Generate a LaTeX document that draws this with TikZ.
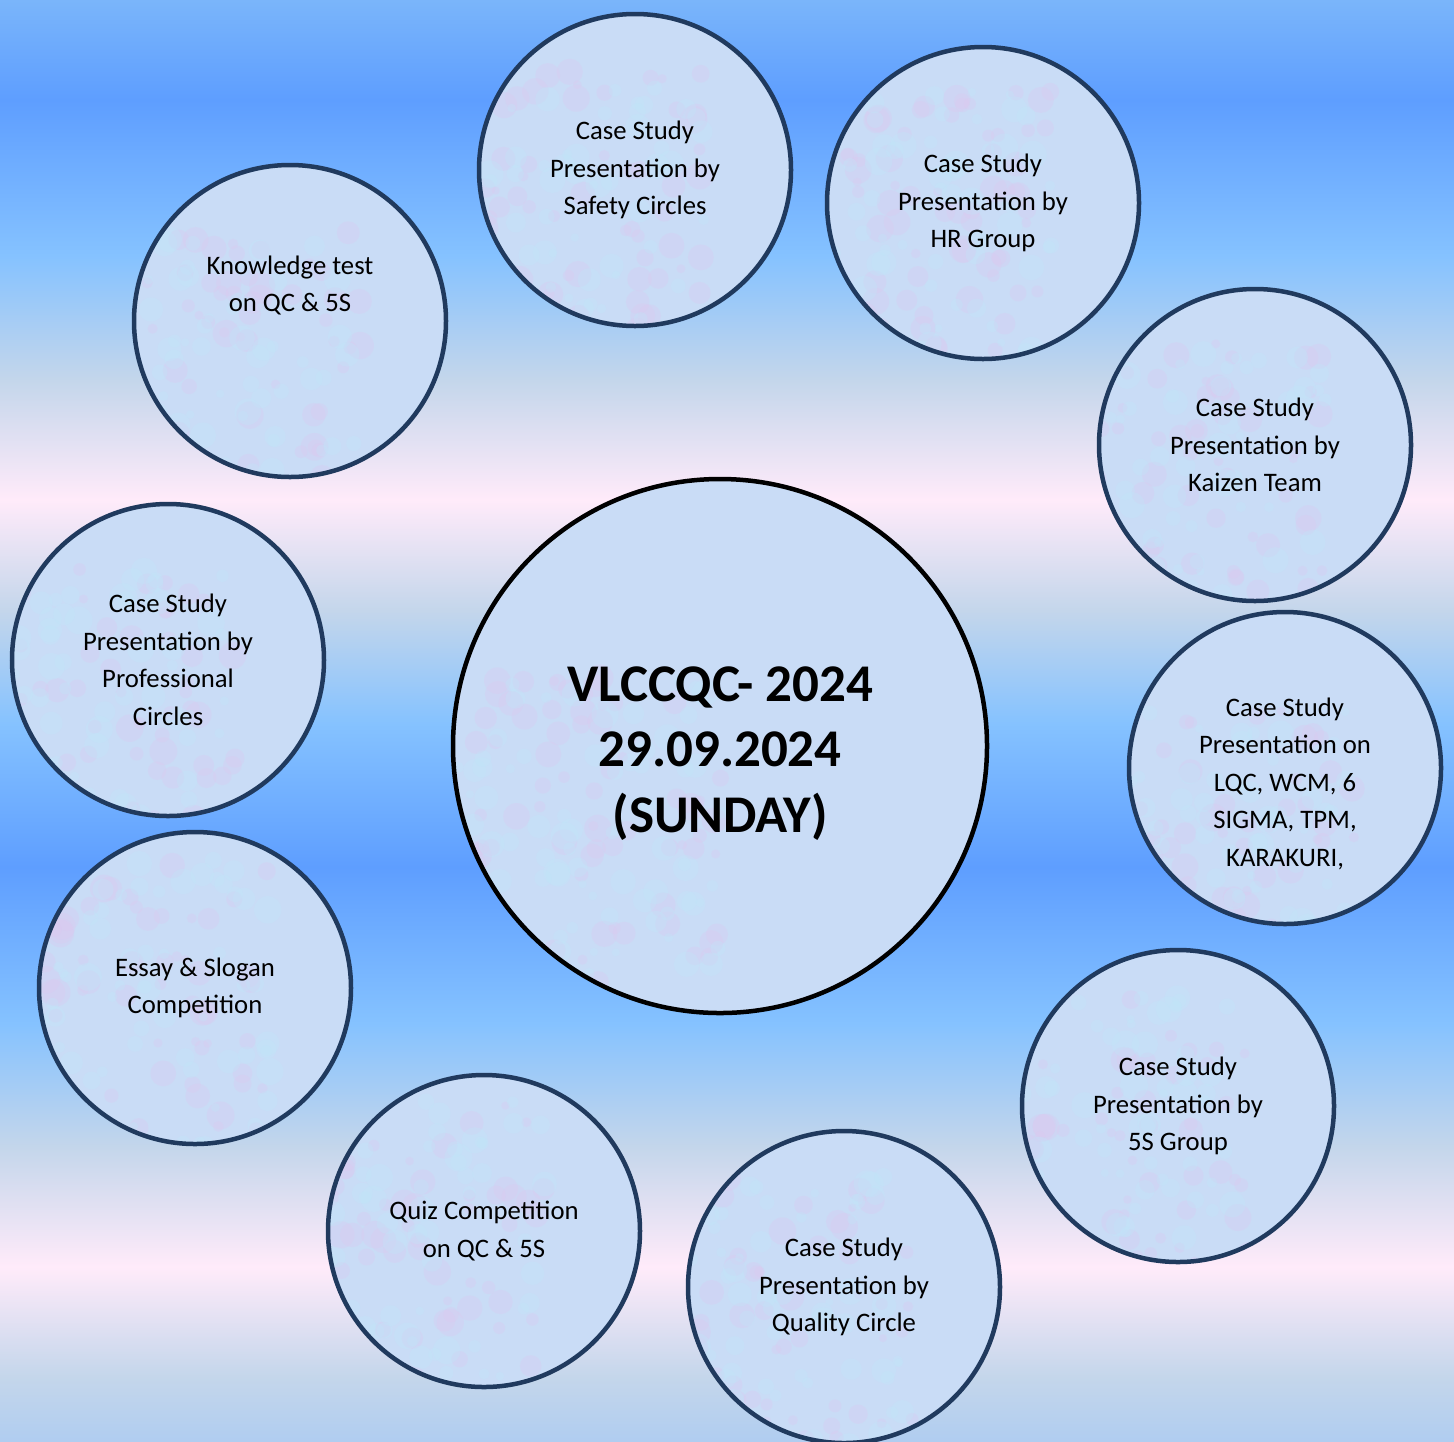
\documentclass[tikz,border=0pt]{standalone}
\usepackage{fontspec}
\setmainfont{Carlito}

\definecolor{bgtop}{HTML}{7AB5FA}
\definecolor{bgblue}{HTML}{5E9EFF}
\definecolor{bgsky}{HTML}{85C2FF}
\definecolor{bggrey}{HTML}{C4D6EB}
\definecolor{bgpink}{HTML}{FFEBFA}
\definecolor{bgbottom}{HTML}{B0CDF0}
\definecolor{bubblefill}{HTML}{C9DCF6}
\definecolor{bubbleline}{HTML}{203A5E}
\definecolor{blotchpink}{HTML}{DCC8F0}
\definecolor{blotchcyan}{HTML}{C0E6FA}

\pgfdeclareverticalshading{daybreak}{100bp}{%
  color(0bp)=(bgbottom); color(25bp)=(bgbottom);%
  color(27.22bp)=(bggrey); color(31.04bp)=(bgpink);%
  color(35.2bp)=(bggrey); color(39.5bp)=(bgsky);%
  color(44.92bp)=(bgblue); color(49.88bp)=(bgsky);%
  color(53.83bp)=(bggrey); color(57.65bp)=(bgpink);%
  color(61.81bp)=(bggrey); color(66.12bp)=(bgsky);%
  color(71.53bp)=(bgblue); color(75bp)=(bgtop); color(100bp)=(bgtop)}

\pgfmathsetseed{17}

\begin{document}
\begin{tikzpicture}[x=0.5pt,y=-0.5pt,
    bubble/.style={circle,draw=bubbleline,line width=2.25pt,fill=bubblefill,
      minimum size=156pt,inner sep=0pt,align=center,
      font=\fontsize{13.35pt}{18.75pt}\selectfont,
      path picture={
        \foreach \k in {1,...,90}
          \fill[shift={(path picture bounding box.center)},blotchpink,opacity=.3]
            (rand*78pt,rand*78pt) circle (2pt+rnd*5pt);
        \foreach \k in {1,...,90}
          \fill[shift={(path picture bounding box.center)},blotchcyan,opacity=.3]
            (rand*78pt,rand*78pt) circle (2pt+rnd*5pt);
      }},
    hub/.style={bubble,draw=black,minimum size=267pt,
      font=\bfseries\fontsize{26.5pt}{32.75pt}\selectfont}]
\shade[shading=daybreak] (0,0) rectangle (1454,1441);
\useasboundingbox (0,0) rectangle (1454,1441);

% centre
\node[hub]    (event)     at ( 720, 746) {\mbox{}\\[-8pt]VLCCQC- 2024\\29.09.2024\\(SUNDAY)};

% ring of events
\node[bubble] (safety)    at ( 635, 170) {Case Study\\Presentation by\\Safety Circles};
\node[bubble] (hr)        at ( 983, 203) {Case Study\\Presentation by\\HR Group};
\node[bubble] (kaizen)    at (1255, 445) {Case Study\\Presentation by\\Kaizen Team};
\node[bubble] (lqc)       at (1285, 768) {\mbox{}\\[6pt]Case Study\\Presentation on\\LQC, WCM, 6\\SIGMA, TPM,\\KARAKURI,};
\node[bubble] (fives)     at (1178,1106) {Case Study\\Presentation by\\5S Group};
\node[bubble] (qcircle)   at ( 844,1287) {Case Study\\Presentation by\\Quality Circle};
\node[bubble] (quiz)      at ( 484,1231) {Quiz Competition\\on QC \& 5S};
\node[bubble] (essay)     at ( 195, 988) {Essay \& Slogan\\Competition};
\node[bubble] (prof)      at ( 168, 660) {Case Study\\Presentation by\\Professional\\Circles};
\node[bubble] (knowledge) at ( 290, 321) {Knowledge test\\on QC \& 5S\\~\\~};
\end{tikzpicture}
\end{document}
